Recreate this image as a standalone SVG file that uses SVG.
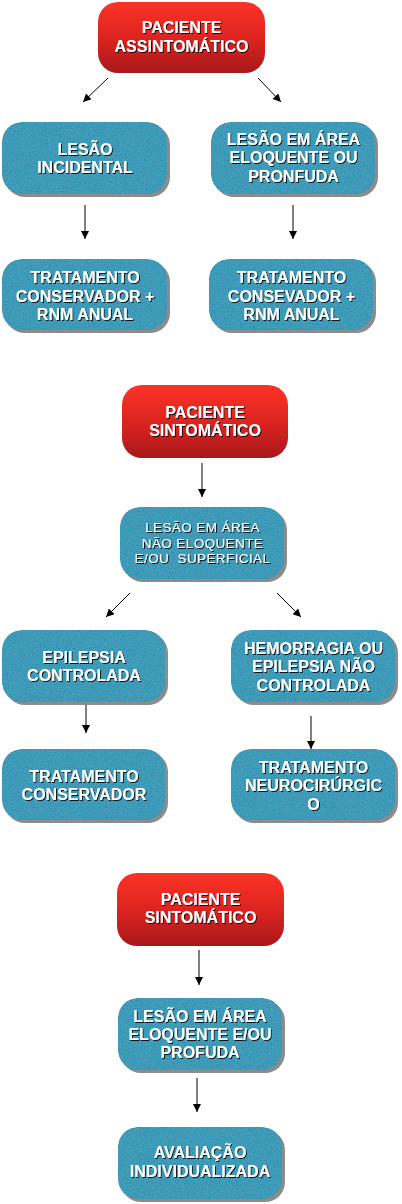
<svg xmlns="http://www.w3.org/2000/svg" width="402" height="1204" viewBox="0 0 402 1204">
<style>
.red{fill:url(#rg)}
.blue{fill:#3898b6;filter:url(#tex)}
.sh{fill:#8c8c8c}
.t{font-family:"Liberation Sans",Arial,sans-serif;font-weight:bold;font-size:16px;fill:#fff;text-anchor:middle;filter:url(#ts)}
.s{font-weight:normal;font-size:13.5px;letter-spacing:0.4px}
.edge{stroke:#000;stroke-width:1;fill:none;marker-end:url(#ah)}
</style>
<defs>
<linearGradient id="rg" x1="0" y1="0" x2="0" y2="1">
<stop offset="0" stop-color="#fb3326"/>
<stop offset="0.5" stop-color="#dd2420"/>
<stop offset="1" stop-color="#a8171a"/>
</linearGradient>
<filter id="tex" x="0" y="0" width="100%" height="100%">
<feTurbulence type="fractalNoise" baseFrequency="0.7" numOctaves="2" seed="4" result="n"/>
<feColorMatrix in="n" type="matrix" values="0.33 0.33 0.33 0 0  0.33 0.33 0.33 0 0  0.33 0.33 0.33 0 0  0 0 0 0 1" result="g"/>
<feComposite in="g" in2="SourceGraphic" operator="arithmetic" k1="0" k2="0.18" k3="1" k4="-0.08" result="c"/>
<feComposite in="c" in2="SourceGraphic" operator="in"/>
</filter>
<filter id="ts" x="-10%" y="-30%" width="120%" height="160%">
<feDropShadow dx="1" dy="1" stdDeviation="0.4" flood-color="#000" flood-opacity="0.85"/>
</filter>
<marker id="ah" viewBox="0 0 10 10" refX="10" refY="5" markerWidth="9" markerHeight="8" markerUnits="userSpaceOnUse" orient="auto">
<path d="M0,0 L10,5 L0,10 z" fill="#000"/>
</marker>
</defs>

<g id="connectors">
<line class="edge" x1="108" y1="78" x2="83" y2="102"/>
<line class="edge" x1="258" y1="78" x2="281" y2="102"/>
<line class="edge" x1="85" y1="205" x2="85" y2="239"/>
<line class="edge" x1="293" y1="205" x2="293" y2="239"/>
<line class="edge" x1="202" y1="463" x2="202" y2="497"/>
<line class="edge" x1="130" y1="593" x2="106" y2="617"/>
<line class="edge" x1="277" y1="593" x2="301" y2="617"/>
<line class="edge" x1="86" y1="700" x2="86" y2="733"/>
<line class="edge" x1="311" y1="716" x2="311" y2="749"/>
<line class="edge" x1="199" y1="950" x2="199" y2="985"/>
<line class="edge" x1="197" y1="1078" x2="197" y2="1112"/>
</g>

<g id="n1">
<rect class="red" x="98" y="2" width="167" height="71" rx="20"/>
<text class="t" x="181.5" y="33">PACIENTE</text>
<text class="t" x="181.5" y="52">ASSINTOMÁTICO</text>
</g>

<g id="n2">
<rect class="sh" x="5" y="125" width="165" height="72" rx="20"/>
<rect class="blue" x="2" y="122" width="165" height="72" rx="20"/>
<text class="t" x="85" y="155">LESÃO</text>
<text class="t" x="85" y="173">INCIDENTAL</text>
</g>

<g id="n3">
<rect class="sh" x="214" y="125" width="164" height="72" rx="20"/>
<rect class="blue" x="211" y="122" width="164" height="72" rx="20"/>
<text class="t" x="293.5" y="145">LESÃO EM ÁREA</text>
<text class="t" x="293.5" y="163">ELOQUENTE OU</text>
<text class="t" x="293.5" y="182">PRONFUDA</text>
</g>

<g id="n4">
<rect class="sh" x="5" y="262" width="165" height="71" rx="20"/>
<rect class="blue" x="2" y="259" width="165" height="71" rx="20"/>
<text class="t" x="85" y="283">TRATAMENTO</text>
<text class="t" x="85" y="302">CONSERVADOR +</text>
<text class="t" x="85" y="320">RNM ANUAL</text>
</g>

<g id="n5">
<rect class="sh" x="212" y="262" width="164" height="71" rx="20"/>
<rect class="blue" x="209" y="259" width="164" height="71" rx="20"/>
<text class="t" x="291.5" y="283">TRATAMENTO</text>
<text class="t" x="291.5" y="302">CONSEVADOR +</text>
<text class="t" x="291.5" y="320">RNM ANUAL</text>
</g>

<g id="n6">
<rect class="red" x="122" y="385" width="166" height="73" rx="20"/>
<text class="t" x="205" y="418">PACIENTE</text>
<text class="t" x="205" y="436">SINTOMÁTICO</text>
</g>

<g id="n7">
<rect class="sh" x="123" y="510" width="164" height="72" rx="20"/>
<rect class="blue" x="120" y="507" width="164" height="72" rx="20"/>
<text class="t s" x="202.5" y="532">LESÃO EM ÁREA</text>
<text class="t s" x="202.5" y="548">NÃO ELOQUENTE</text>
<text class="t s" x="202.5" y="563" xml:space="preserve">E/OU  SUPERFICIAL</text>
</g>

<g id="n8">
<rect class="sh" x="5" y="633" width="163" height="72" rx="20"/>
<rect class="blue" x="2" y="630" width="163" height="72" rx="20"/>
<text class="t" x="84" y="663">EPILEPSIA</text>
<text class="t" x="84" y="681">CONTROLADA</text>
</g>

<g id="n9">
<rect class="sh" x="234" y="633" width="164" height="72" rx="20"/>
<rect class="blue" x="231" y="630" width="164" height="72" rx="20"/>
<text class="t" x="313.5" y="654">HEMORRAGIA OU</text>
<text class="t" x="313.5" y="672">EPILEPSIA NÃO</text>
<text class="t" x="313.5" y="691">CONTROLADA</text>
</g>

<g id="n10">
<rect class="sh" x="5" y="752" width="163" height="71" rx="20"/>
<rect class="blue" x="2" y="749" width="163" height="71" rx="20"/>
<text class="t" x="84" y="782">TRATAMENTO</text>
<text class="t" x="84" y="800">CONSERVADOR</text>
</g>

<g id="n11">
<rect class="sh" x="234" y="752" width="164" height="71" rx="20"/>
<rect class="blue" x="231" y="749" width="164" height="71" rx="20"/>
<text class="t" x="313.5" y="773">TRATAMENTO</text>
<text class="t" x="313.5" y="791">NEUROCIRÚRGIC</text>
<text class="t" x="313.5" y="810">O</text>
</g>

<g id="n12">
<rect class="red" x="117" y="873" width="167" height="73" rx="20"/>
<text class="t" x="200.5" y="905">PACIENTE</text>
<text class="t" x="200.5" y="923">SINTOMÁTICO</text>
</g>

<g id="n13">
<rect class="sh" x="121" y="1001" width="164" height="72" rx="20"/>
<rect class="blue" x="118" y="998" width="164" height="72" rx="20"/>
<text class="t" x="200" y="1022">LESÃO EM ÁREA</text>
<text class="t" x="200" y="1040">ELOQUENTE E/OU</text>
<text class="t" x="200" y="1058">PROFUDA</text>
</g>

<g id="n14">
<rect class="sh" x="121" y="1130" width="164" height="72" rx="20"/>
<rect class="blue" x="118" y="1127" width="164" height="72" rx="20"/>
<text class="t" x="200" y="1158">AVALIAÇÃO</text>
<text class="t" x="200" y="1177">INDIVIDUALIZADA</text>
</g>
</svg>
